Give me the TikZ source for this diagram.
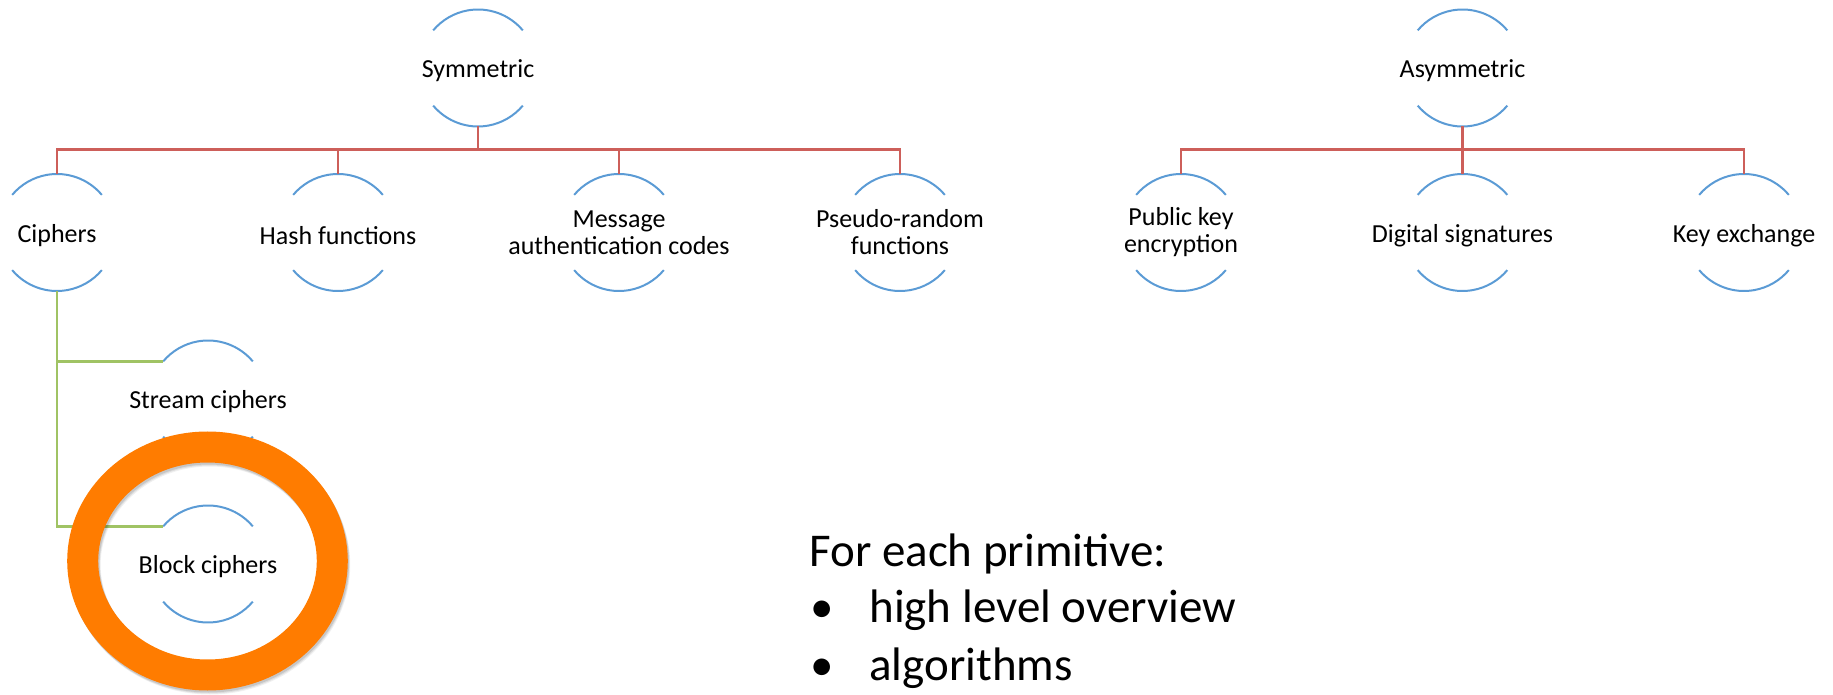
\documentclass[tikz,border=0pt]{standalone}
\usepackage{fontspec}
\setmainfont{Carlito}
\usetikzlibrary{calc}
\definecolor{arcblue}{RGB}{91,155,213}
\definecolor{linkred}{RGB}{205,95,90}
\definecolor{linkgreen}{RGB}{160,195,100}
\definecolor{ringorange}{RGB}{255,124,0}
\tikzset{
  hub/.style={circle, minimum size=58.5pt, inner sep=0pt, outer sep=0pt},
  lbl/.style={font=\fontsize{13}{13.5}\selectfont, align=center, inner sep=0pt},
  one/.style={lbl, yshift=-1.5pt},
  arcline/.style={draw=arcblue, line width=1pt},
  redlink/.style={draw=linkred, line width=1.3pt},
  greenlink/.style={draw=linkgreen, line width=1.3pt},
  bigtext/.style={font=\fontsize{23.5}{28}\selectfont, anchor=base west, inner sep=0pt},
}
% upper and lower arcs around a hub node
\newcommand\halfarcs[1]{%
  \draw[arcline] (#1.40) arc[start angle=40, end angle=140, radius=29.25pt];
  \draw[arcline] (#1.220) arc[start angle=220, end angle=320, radius=29.25pt];}
\begin{document}
\begin{tikzpicture}[x=0.5pt,y=0.5pt]
\useasboundingbox (0,0) rectangle (1833,-695);

% --- symmetric branch ---
\node[hub] (sym) at (478,-68) {};
\node[one] (sym-t) at (sym) {Symmetric};
\node[hub] (ciph) at (57,-232.5) {};
\node[one] (ciph-t) at (ciph) {Ciphers};
\node[hub] (hash) at (338,-232.5) {};
\node[one] (hash-t) at (hash) {Hash functions};
\node[hub] (mac) at (619,-232.5) {};
\node[lbl] (mac-t) at (mac) {Message\\authentication codes};
\node[hub] (prf) at (900,-232.5) {};
\node[lbl] (prf-t) at (prf) {Pseudo-random\\functions};

% --- cipher sub-branch ---
\node[hub] (stream) at (208,-399) {};
\node[one] (stream-t) at (stream) {Stream ciphers};
\node[hub] (block) at (208,-564) {};
\node[one] (block-t) at (block) {Block ciphers};

% --- asymmetric branch ---
\node[hub] (asym) at (1462.5,-68) {};
\node[one] (asym-t) at (asym) {Asymmetric};
\node[hub] (pke) at (1181,-232.5) {};
\node[lbl] (pke-t) at (pke) {Public key\\encryption};
\node[hub] (sig) at (1462.5,-232.5) {};
\node[one] (sig-t) at (sig) {Digital signatures};
\node[hub] (kex) at (1744,-232.5) {};
\node[one] (kex-t) at (kex) {Key exchange};

\foreach \n in {sym,ciph,hash,mac,prf,stream,block,asym,pke,sig,kex}{\halfarcs{\n}}

% --- tree connectors ---
\foreach \c in {ciph,hash,mac,prf}{
  \draw[redlink] (sym.south) -- ++(0,-23) -| (\c.north);}
\foreach \c in {pke,sig,kex}{
  \draw[redlink] (asym.south) -- ++(0,-23) -| (\c.north);}
\draw[greenlink] (ciph.south) |- (stream.140);
\draw[greenlink] (ciph.south) |- (block.140);

% --- highlight ring with soft shadow ---
\foreach \o/\a in {4/0.06,3/0.08,2/0.10}{
  \draw[line width=15.5pt, black, opacity=\a]
    ($(207.5,-561)+(\o*0.6,-\o)$) ellipse [x radius=62.4pt, y radius=57pt];}
\draw[line width=15.5pt, ringorange] (207.5,-561) ellipse [x radius=62.4pt, y radius=57pt];

% --- notes ---
\node[bigtext] (head) at (809,-566) {For each primitive:};
\node[bigtext] (b1) at (810,-622) {•};
\node[bigtext] (i1) at (869,-622) {high level overview};
\node[bigtext] (b2) at (810,-680) {•};
\node[bigtext] (i2) at (869,-680) {algorithms};
\end{tikzpicture}
\end{document}
